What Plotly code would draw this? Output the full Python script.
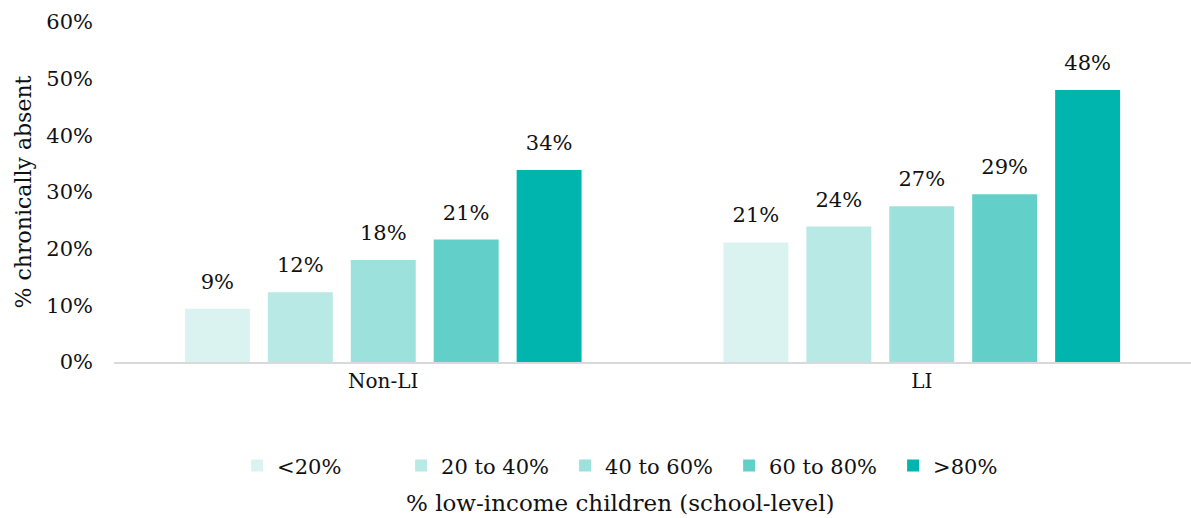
import plotly.graph_objects as go

categories = ["Non-LI", "LI"]
series_names = ["<20%", "20 to 40%", "40 to 60%", "60 to 80%", ">80%"]
values = [
    [9.4, 21.1],
    [12.3, 23.9],
    [18.0, 27.5],
    [21.6, 29.6],
    [33.9, 48.0],
]
labels = [
    ["9%", "21%"],
    ["12%", "24%"],
    ["18%", "27%"],
    ["21%", "29%"],
    ["34%", "48%"],
]
colors = ["#DAF3F1", "#B8E9E5", "#9CE1DC", "#62D0C9", "#00B5AD"]
y_ticks = [0, 10, 20, 30, 40, 50, 60]
y_ticktext = ["0%", "10%", "20%", "30%", "40%", "50%", "60%"]

FONT = "DejaVu Serif"
TXT = "#111111"

fig = go.Figure()
for i, name in enumerate(series_names):
    fig.add_trace(go.Bar(
        x=categories, y=values[i], name=name,
        marker=dict(color=colors[i], line=dict(width=0)),
        offsetgroup=str(i), alignmentgroup="a",
        hoverinfo="skip",
    ))
for i, name in enumerate(series_names):
    fig.add_trace(go.Scatter(
        x=categories, y=values[i], mode="markers+text", text=labels[i],
        textposition="top center",
        marker=dict(size=22, opacity=0),
        textfont=dict(family=FONT, size=21, color=TXT),
        offsetgroup=str(i), alignmentgroup="a",
        showlegend=False, hoverinfo="skip", cliponaxis=False,
    ))

fig.update_layout(
    width=1191, height=518,
    margin=dict(l=114, r=0, t=22, b=156),
    paper_bgcolor="white", plot_bgcolor="white",
    barmode="group", bargap=0.23, bargroupgap=0.217,
    scattermode="group", scattergap=0.23,
    font=dict(family=FONT, size=21, color=TXT),
    showlegend=True,
    legend=dict(
        orientation="h", x=0.495, xanchor="center", y=-0.245, yanchor="top",
        font=dict(family=FONT, size=21, color=TXT),
        traceorder="normal", itemwidth=30, entrywidth=119,
    ),
    xaxis=dict(
        showgrid=False, showline=True, linecolor="#D9D9D9", linewidth=2,
        ticks="", tickfont=dict(family=FONT, size=20, color=TXT),
    ),
    yaxis=dict(
        range=[0, 60], tickvals=y_ticks, ticktext=y_ticktext,
        showgrid=False, zeroline=False, showline=False, ticks="",
        ticklabelstandoff=20,
        tickfont=dict(family=FONT, size=21, color=TXT),
        title=dict(text="% chronically absent", standoff=8,
                   font=dict(family=FONT, size=22, color=TXT)),
    ),
    annotations=[dict(
        text="% low-income children (school-level)", xref="paper", yref="paper",
        x=0.47, y=-0.37, xanchor="center", yanchor="top", showarrow=False,
        font=dict(family=FONT, size=23, color=TXT),
    )],
)

fig.write_html("out.html")
